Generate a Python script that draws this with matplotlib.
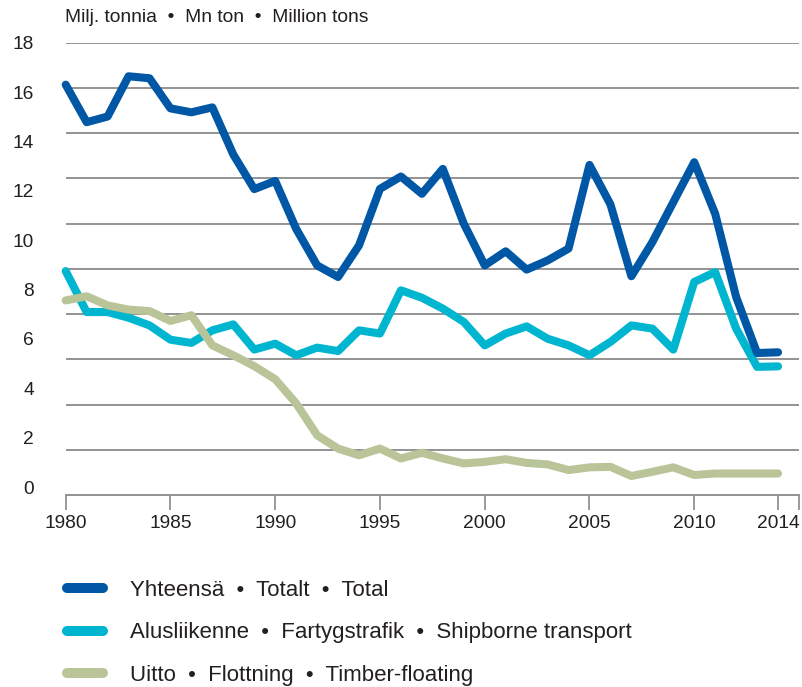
import numpy as np
import matplotlib
matplotlib.use("Agg")
import matplotlib.pyplot as plt

plt.rcParams['font.family'] = ['Liberation Sans', 'DejaVu Sans']

# data (million tons)
years = list(range(1980, 2015))
total = [16.3, 14.78, 15.01, 16.64, 16.56, 15.34, 15.18, 15.38, 13.47, 12.07,
         12.4, 10.46, 8.98, 8.51, 9.79, 12.08, 12.58, 11.88, 12.89, 10.67,
         8.98, 9.55, 8.81, 9.18, 9.66, 13.05, 11.45, 8.54, 9.92, 11.54,
         13.16, 11.07, 7.70, 5.43, 5.46]
ship = [8.75, 7.09, 7.09, 6.86, 6.55, 5.97, 5.84, 6.35, 6.59, 5.57,
        5.81, 5.34, 5.65, 5.51, 6.35, 6.22, 7.97, 7.67, 7.23, 6.69,
        5.74, 6.22, 6.51, 6.01, 5.74, 5.34, 5.88, 6.55, 6.42, 5.57,
        8.31, 8.71, 6.42, 4.87, 4.89]
timber = [7.56, 7.73, 7.36, 7.19, 7.13, 6.73, 6.96, 5.74, 5.34, 4.9,
          4.37, 3.39, 2.10, 1.56, 1.29, 1.56, 1.16, 1.39, 1.16, 0.96,
          1.02, 1.13, 0.98, 0.92, 0.69, 0.80, 0.82, 0.45, 0.62, 0.80,
          0.49, 0.55, 0.55, 0.55, 0.55]

labels = ['Yhteensä  •  Totalt  •  Total',
          'Alusliikenne  •  Fartygstrafik  •  Shipborne transport',
          'Uitto  •  Flottning  •  Timber-floating']
colors = ['#0057a5', '#00b5cf', '#bac499']
xticks = [1980, 1985, 1990, 1995, 2000, 2005, 2010, 2014, 2015]
xlabels = ['1980', '1985', '1990', '1995', '2000', '2005', '2010', '2014', '']

txt = '#231f20'
grid_c = '#8a8a8a'

fig = plt.figure(figsize=(8.02, 6.87), dpi=100)
ax = fig.add_axes([65.7 / 802, 1 - 495 / 687, (799 - 65.7) / 802, (495 - 42.7) / 687])

ybot, ytop = -0.32, 18.0
ax.set_xlim(1980, 2015)
ax.set_ylim(ybot, ytop)

# the grid lines of the original do not sit on the labels: 10 even steps
for g in np.linspace(ybot, ytop, 11)[1:]:
    ax.axhline(g, color=grid_c, lw=1.3, zorder=1)

lw = 5.8
l_ship, = ax.plot(years, ship, color=colors[1], lw=lw, solid_capstyle='round',
                  solid_joinstyle='round', zorder=3, clip_on=False)
l_tim, = ax.plot(years, timber, color=colors[2], lw=lw, solid_capstyle='round',
                 solid_joinstyle='round', zorder=4, clip_on=False)
l_tot, = ax.plot(years, total, color=colors[0], lw=lw, solid_capstyle='round',
                 solid_joinstyle='round', zorder=5, clip_on=False)

for s in ['top', 'right', 'left']:
    ax.spines[s].set_visible(False)
ax.spines['bottom'].set_color(grid_c)
ax.spines['bottom'].set_linewidth(1.3)

ax.set_yticks(range(0, 19, 2))
ax.tick_params(axis='y', length=0, pad=23, labelsize=13.8, labelcolor=txt)
ax.set_xticks(xticks)
ax.set_xticklabels(xlabels)
ax.tick_params(axis='x', length=10.5, width=1.2, color=grid_c, pad=4,
               labelsize=13.8, labelcolor=txt)

fig.text(65 / 802, 1 - 17 / 687, 'Milj. tonnia  •  Mn ton  •  Million tons',
         fontsize=13.9, color=txt, va='center', ha='left')

fig.legend([l_tot, l_ship, l_tim], labels, loc='upper left',
           bbox_to_anchor=(67 / 802, 1 - 580 / 687), frameon=False,
           borderpad=0, borderaxespad=0, handlelength=1.62, handletextpad=1.22,
           labelspacing=0.96, fontsize=16, labelcolor=txt)
for h in fig.legends[0].legend_handles:
    h.set_linewidth(7.2)
    h.set_solid_capstyle('round')

fig.savefig('out.png', dpi=100)
